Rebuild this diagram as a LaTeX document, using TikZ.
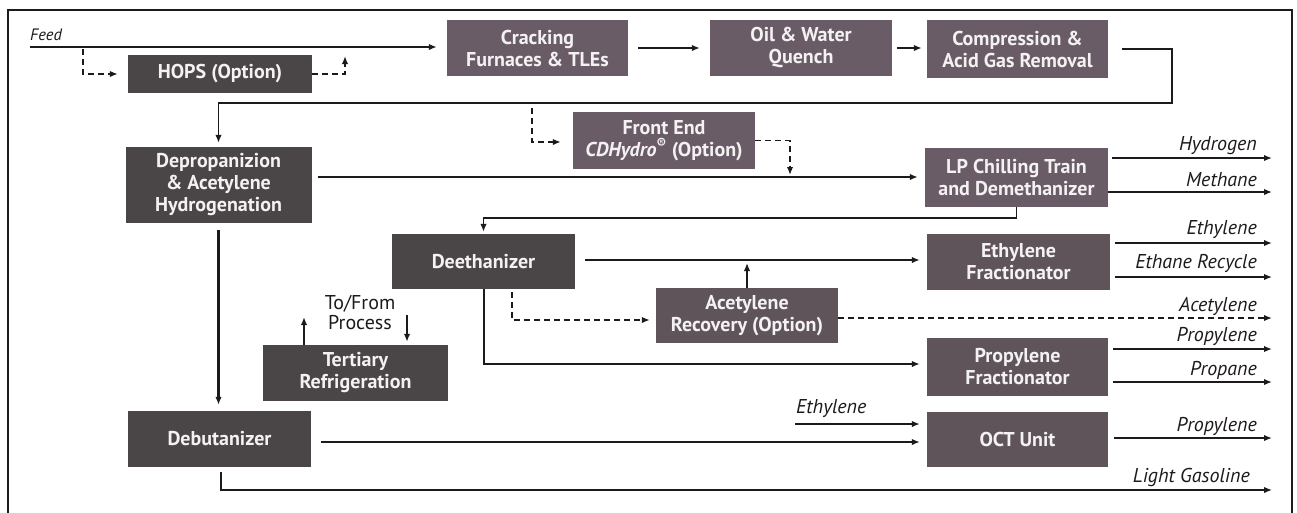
\documentclass[tikz,border=0pt]{standalone}
\usepackage{fontspec}
\setmainfont{PT Sans}
\usetikzlibrary{arrows.meta}
\definecolor{boxdark}{HTML}{4A4547}
\definecolor{boxmid}{HTML}{5E5459}
\definecolor{boxmauve}{HTML}{6A5C66}
\definecolor{ink}{HTML}{1E1A1C}
\definecolor{boxtext}{HTML}{F4F1F3}
\begin{document}
\begin{tikzpicture}[x=1pt,y=-1pt,
  unit/.style n args={3}{fill=#1, minimum width=#2, minimum height=#3,
    inner sep=0pt, align=center, text=boxtext,
    font=\bfseries\fontsize{20}{22}\selectfont},
  lab/.style={font=\itshape\fontsize{20}{22}\selectfont, text=ink, inner sep=0pt},
  tip/.style={-{Latex[length=8pt,width=6.5pt]}},
  flow/.style={draw=ink, line width=2.6pt, tip},
  medflow/.style={draw=ink, line width=2pt, tip},
  thinflow/.style={draw=ink, line width=1.5pt, tip},
  dflow/.style={draw=ink, line width=1.7pt, dash pattern=on 6pt off 4pt, tip},
  frame/.style={draw=ink, line width=2.4pt}]
\useasboundingbox (0,0) rectangle (1297,512);
\draw[frame] (8,10) rectangle (1292,520);

% process units
\node[unit={boxdark}{184}{38}] (hops) at (220,74) {HOPS (Option)};
\node[unit={boxmauve}{181}{56}] (crack) at (537.5,48) {Cracking\\Furnaces \& TLEs};
\node[unit={boxmauve}{182}{56}] (quench) at (801,48) {Oil \& Water\\Quench};
\node[unit={boxmauve}{181}{58}] (comp) at (1017.5,49) {Compression \&\\Acid Gas Removal};
\node[unit={boxdark}{186}{76}] (deprop) at (218.5,185) {Depropanizion\\\& Acetylene\\Hydrogenation};
\node[unit={boxmauve}{182}{57}] (front) at (664,140.5) {Front End\\{\itshape CDHydro}\textsuperscript{\textregistered}\ (Option)};
\node[unit={boxmauve}{183}{59}] (lpchill) at (1016.5,177.5) {LP Chilling Train\\and Demethanizer};
\node[unit={boxdark}{183}{55}] (deeth) at (483.5,261.5) {Deethanizer};
\node[unit={boxmid}{183}{56}] (ethfrac) at (1018.5,262) {Ethylene\\Fractionator};
\node[unit={boxmid}{182}{55}] (acrec) at (747,315.5) {Acetylene\\Recovery (Option)};
\node[unit={boxmid}{181}{58}] (propfrac) at (1017.5,367) {Propylene\\Fractionator};
\node[unit={boxdark}{185}{56}] (tert) at (355.5,373) {Tertiary\\Refrigeration};
\node[unit={boxdark}{183}{56}] (debut) at (219.5,439) {Debutanizer};
\node[unit={boxmid}{181}{55}] (oct) at (1017.5,439.5) {OCT Unit};

% free ends and bends
\coordinate (feedin) at (30,47);
\coordinate (hopsfrom) at (83,49);
\coordinate (hopsback) at (345,56);
\coordinate (bend1) at (1172,103);
\coordinate (fefrom) at (532,108);
\coordinate (fejoin) at (790,176);
\coordinate (ethin) at (795,424);
\coordinate (tfup) at (304,317);
\coordinate (tfdown) at (407,315);
\coordinate (oH) at (1272,158);
\coordinate (oM) at (1272,192);
\coordinate (oE) at (1272,243);
\coordinate (oER) at (1272,277);
\coordinate (oA) at (1272,318);
\coordinate (oP) at (1272,349);
\coordinate (oPa) at (1272,382);
\coordinate (oO) at (1272,438);
\coordinate (oG) at (1272,490);
\coordinate (dpout) at ([yshift=8pt]deprop.east);
\coordinate (deout) at ([yshift=1.5pt]deeth.east);
\coordinate (dedash) at ([xshift=28.5pt]deeth.south);
\coordinate (dbout) at ([yshift=-3pt]debut.east);

% feed and front end
\node[lab, font=\itshape\fontsize{16.5}{19}\selectfont, anchor=base west] (feedlab) at (30,40) {Feed};
\draw[flow, shorten >=10pt] (feedin) -- (feedin -| crack.west);
\draw[dflow, shorten >=10pt] (hopsfrom) |- (hops.west);
\draw[dflow] (hops.east) -| (hopsback);
\draw[flow, shorten <=10pt, shorten >=10pt] (crack.east) -- (crack.east -| quench.west);
\draw[flow, shorten <=5pt, shorten >=5pt] (quench.east) -- (quench.east -| comp.west);
\draw[thinflow, shorten >=4pt] ([xshift=14pt]comp.east) -| (bend1) -| (deprop.north);

% cold section
\draw[flow, shorten <=6pt, shorten >=7pt] (dpout) -- (dpout -| lpchill.west);
\draw[dflow, shorten >=12pt] (fefrom) |- ([yshift=-1.5pt]front.west);
\draw[dflow, shorten >=1pt] (front.east) -| (fejoin);
\draw[flow, shorten <=4pt] (lpchill.east |- oH) -- (oH);
\node[lab, anchor=base east] (hlab) at (1257,150) {Hydrogen};
\draw[thinflow] (lpchill.east |- oM) -- (oM);
\node[lab, anchor=base east] (mlab) at (1257,186) {Methane};
\draw[thinflow, shorten >=2pt] (lpchill.south) -- ++(0,11) -| (deeth.north);

% C2 and C3 fractionation
\draw[flow, shorten <=10pt, shorten >=7pt] (deout) -- (deout -| ethfrac.west);
\draw[flow, shorten <=5pt] (ethfrac.east |- oE) -- (oE);
\node[lab, anchor=base east] (elab) at (1257,234) {Ethylene};
\draw[thinflow, shorten <=5pt] (ethfrac.east |- oER) -- (oER);
\node[lab, anchor=base east] (erlab) at (1257,268) {Ethane Recycle};
\draw[thinflow, shorten >=3pt] (acrec.north) -- (acrec.north |- deout);
\draw[dflow, shorten <=3pt, shorten >=6pt] (dedash) |- ([yshift=-4.5pt]acrec.west);
\draw[dflow] (acrec.east |- oA) -- (oA);
\node[lab, anchor=base east] (alab) at (1257,311) {Acetylene};
\draw[medflow, shorten >=7pt] (deeth.south) |- ([yshift=3pt]propfrac.west);
\draw[flow, shorten <=5pt] (propfrac.east |- oP) -- (oP);
\node[lab, anchor=base east] (plab) at (1257,341) {Propylene};
\draw[flow, shorten <=5pt] (propfrac.east |- oPa) -- (oPa);
\node[lab, anchor=base east] (palab) at (1257,375) {Propane};

% refrigeration
\draw[medflow] ([xshift=-51.5pt]tert.north) -- (tfup);
\draw[medflow, shorten >=3pt] (tfdown) -- (tfdown |- tert.north);
\node[align=center, text=ink, inner sep=0pt, font=\fontsize{20}{20}\selectfont] (tflab) at (360,312) {To/From\\Process};

% heavy end and OCT
\draw[flow, shorten <=7pt, shorten >=6pt] (deprop.south) -- (deprop.south |- debut.north);
\draw[flow, shorten <=10pt, shorten >=7pt] (dbout) -- (dbout -| oct.west);
\draw[flow, shorten >=7pt] (ethin) -- (ethin -| oct.west);
\node[lab, anchor=base west] (ethinlab) at (796,413) {Ethylene};
\draw[medflow, shorten <=6pt] (oct.east |- oO) -- (oO);
\node[lab, anchor=base east] (oplab) at (1257,431) {Propylene};
\draw[thinflow, shorten <=5pt] ([xshift=1.5pt]debut.south) |- (oG);
\node[lab, anchor=base east] (glab) at (1250,482) {Light Gasoline};
\end{tikzpicture}
\end{document}
